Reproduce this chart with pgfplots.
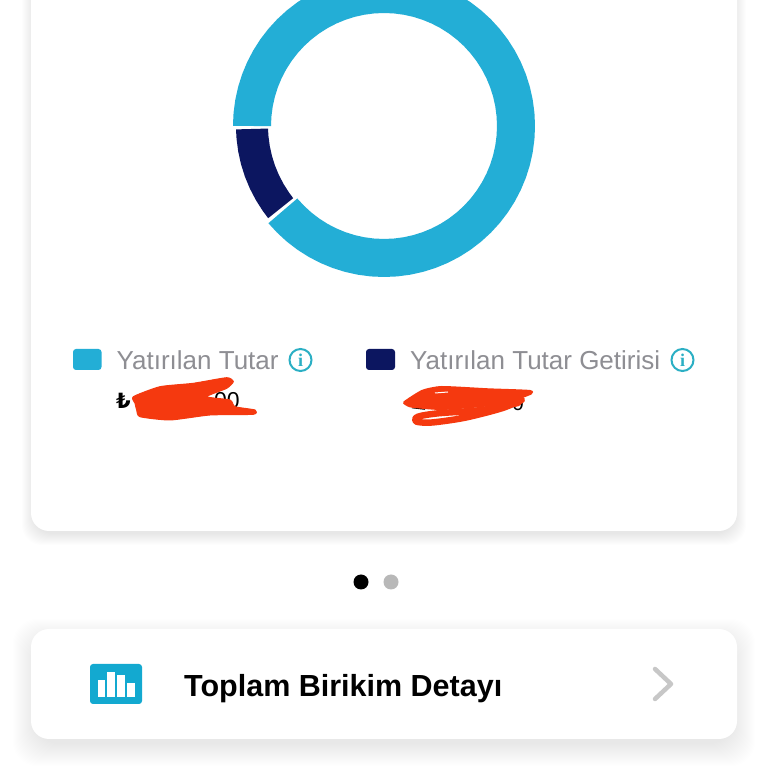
\documentclass[border=0pt]{standalone}
\usepackage{fontspec}
\setmainfont{Liberation Sans}
\newfontfamily\lirafont{DejaVu Sans}
\newfontfamily\infofont{Liberation Serif}
\usepackage{pgfplots}
\pgfplotsset{compat=1.18}
\definecolor{teal1}{HTML}{23AED6}
\definecolor{navy1}{HTML}{0C1660}
\definecolor{gray1}{HTML}{8E8E93}
\definecolor{info1}{HTML}{2BAFC4}
\definecolor{red1}{HTML}{F5390F}
\definecolor{icon1}{HTML}{13A9D0}
\begin{document}
\begin{tikzpicture}
\clip (0,0) rectangle (768pt,768pt);
\fill[white] (0,0) rectangle (768pt,768pt);
\begin{scope}[x=1pt,y=-1pt,shift={(0,768pt)}]
  % shadows
  \foreach \e in {9,8,...,-2}{
    \fill[black,opacity=0.006,rounded corners=20pt] ({31-\e},{-40}) rectangle ({737+\e},{531+5+\e});
  }
  \foreach \e in {18,17,...,-4}{
    \fill[black,opacity=0.0042,rounded corners=24pt] ({31-\e},{629+8-\e}) rectangle ({737+\e},{739+9+\e});
  }
  % cards
  \fill[white,rounded corners=18pt] (31,-40) rectangle (737,531);
  \fill[white,rounded corners=18pt] (31,629) rectangle (737,739);
  % legend keys
  \fill[teal1,rounded corners=3pt] (73,349) rectangle (101.5,370);
  \fill[navy1,rounded corners=3pt] (366,349) rectangle (395,370);
  \node[anchor=base west,inner sep=0pt,text=gray1,font=\fontsize{26}{26}\selectfont] at (116.5,369.5) {Yatırılan Tutar};
  \node[anchor=base west,inner sep=0pt,text=gray1,font=\fontsize{26}{26}\selectfont] at (410,369.5) {Yatırılan Tutar Getirisi};
  % info icons
  \draw[info1,line width=2pt] (300.5,360) circle (11);
  \node[text=info1,inner sep=0pt,font=\infofont\bfseries\fontsize{18}{18}\selectfont] at (300.5,360) {i};
  \draw[info1,line width=2pt] (682.5,360) circle (11);
  \node[text=info1,inner sep=0pt,font=\infofont\bfseries\fontsize{18}{18}\selectfont] at (682.5,360) {i};
  % values under the scribbles
  \node[anchor=base west,inner sep=0pt,font=\lirafont\bfseries\fontsize{21}{21}\selectfont] at (116,409) {₺};
  \node[anchor=base west,inner sep=0pt,font=\fontsize{23}{23}\selectfont] at (214,409) {00};
  \node[anchor=base west,inner sep=0pt,font=\fontsize{21}{21}\selectfont] at (512,411) {0};
  \draw[black,line width=1.6pt] (412,407.5) -- (425,409);
  \draw[black,line width=1.6pt] (470,410) -- (490,408);
  % scribbles
  \fill[red1,line join=round,draw=red1,line width=1pt] plot[smooth cycle,tension=0.35] coordinates {(133.3,396.7)(160,386.7)(193.3,383.3)(226.7,377.7)(233.3,381.7)(226.7,388.3)(206.7,396.7)(230,400)(235,406.7)(255,410)(253.3,414.3)(210,415)(170,420)(140,416.7)(136.7,410)(135,403.3)};
  \fill[red1,line join=round] plot[smooth cycle,tension=0.35] coordinates {(403.3,401.7)(421.7,390)(441.7,386)(488.3,388.3)(530,390)(531.7,394.3)(511.7,401.7)(485,406.7)(441.7,410)(411.7,407.7)(405,405)};
  \draw[red1,line width=6.5pt,line cap=round,line join=round] plot[smooth,tension=0.5] coordinates {(518,403)(481.7,410)(438.3,413.3)(418,416.7)(416,421.5)(431.7,422.5)(465,417.7)(501.7,408.3)(521.7,400)};
  \draw[white,line width=1pt] (435,393) -- (448,392);
  % pager dots
  \fill[black] (361,582) circle (7.5);
  \fill[black!28] (391,582) circle (7.5);
  % bottom card
  \fill[icon1,rounded corners=3pt] (90,664) rectangle (142,704);
  \fill[white] (97.7,680) rectangle (105,696.7);
  \fill[white] (107.3,671.7) rectangle (115,696.7);
  \fill[white] (117.3,675) rectangle (125,696.7);
  \fill[white] (127.3,683.3) rectangle (135,696.7);
  \node[anchor=base west,inner sep=0pt,font=\bfseries\fontsize{30.5}{31}\selectfont] at (184,697) {Toplam Birikim Detayı};
  \draw[black!22,line width=4.5pt,line cap=round,line join=round] (655,669) -- (671,684) -- (655,699);
\end{scope}
\begin{axis}[
  at={(0,0)},anchor=south west,
  scale only axis,width=768pt,height=768pt,
  xmin=-384,xmax=384,ymin=-642,ymax=126,
  hide axis,
]
% share of the ring: Yatirilan Tutar (angle, radius)
\addplot[data cs=polar,teal1,line width=38pt,line cap=butt,line join=round] coordinates {
(220,132)(220.5,132)(225,132)(230,132)(235,132)(240,132)(245,132)(250,132)(255,132)(260,132)(265,132)
(270,132)(275,132)(280,132)(285,132)(290,132)(295,132)(300,132)(305,132)(310,132)(315,132)
(320,132)(325,132)(330,132)(335,132)(340,132)(345,132)(350,132)(355,132)(360,132)(365,132)
(370,132)(375,132)(380,132)(385,132)(390,132)(395,132)(400,132)(405,132)(410,132)(415,132)
(420,132)(425,132)(430,132)(435,132)(440,132)(445,132)(450,132)(455,132)(460,132)(465,132)
(470,132)(475,132)(480,132)(485,132)(490,132)(495,132)(500,132)(505,132)(510,132)(515,132)
(520,132)(525,132)(530,132)(535,132)(539.5,132)(540,132)
};
% share of the ring: Yatirilan Tutar Getirisi
\addplot[data cs=polar,navy1,line width=32pt,line cap=butt,line join=round] coordinates {
(181.3,132)(181.8,132)(185,132)(190,132)(195,132)(200,132)(205,132)(210,132)(215,132)(218,132)(218.5,132)
};
\end{axis}
\end{tikzpicture}
\end{document}
